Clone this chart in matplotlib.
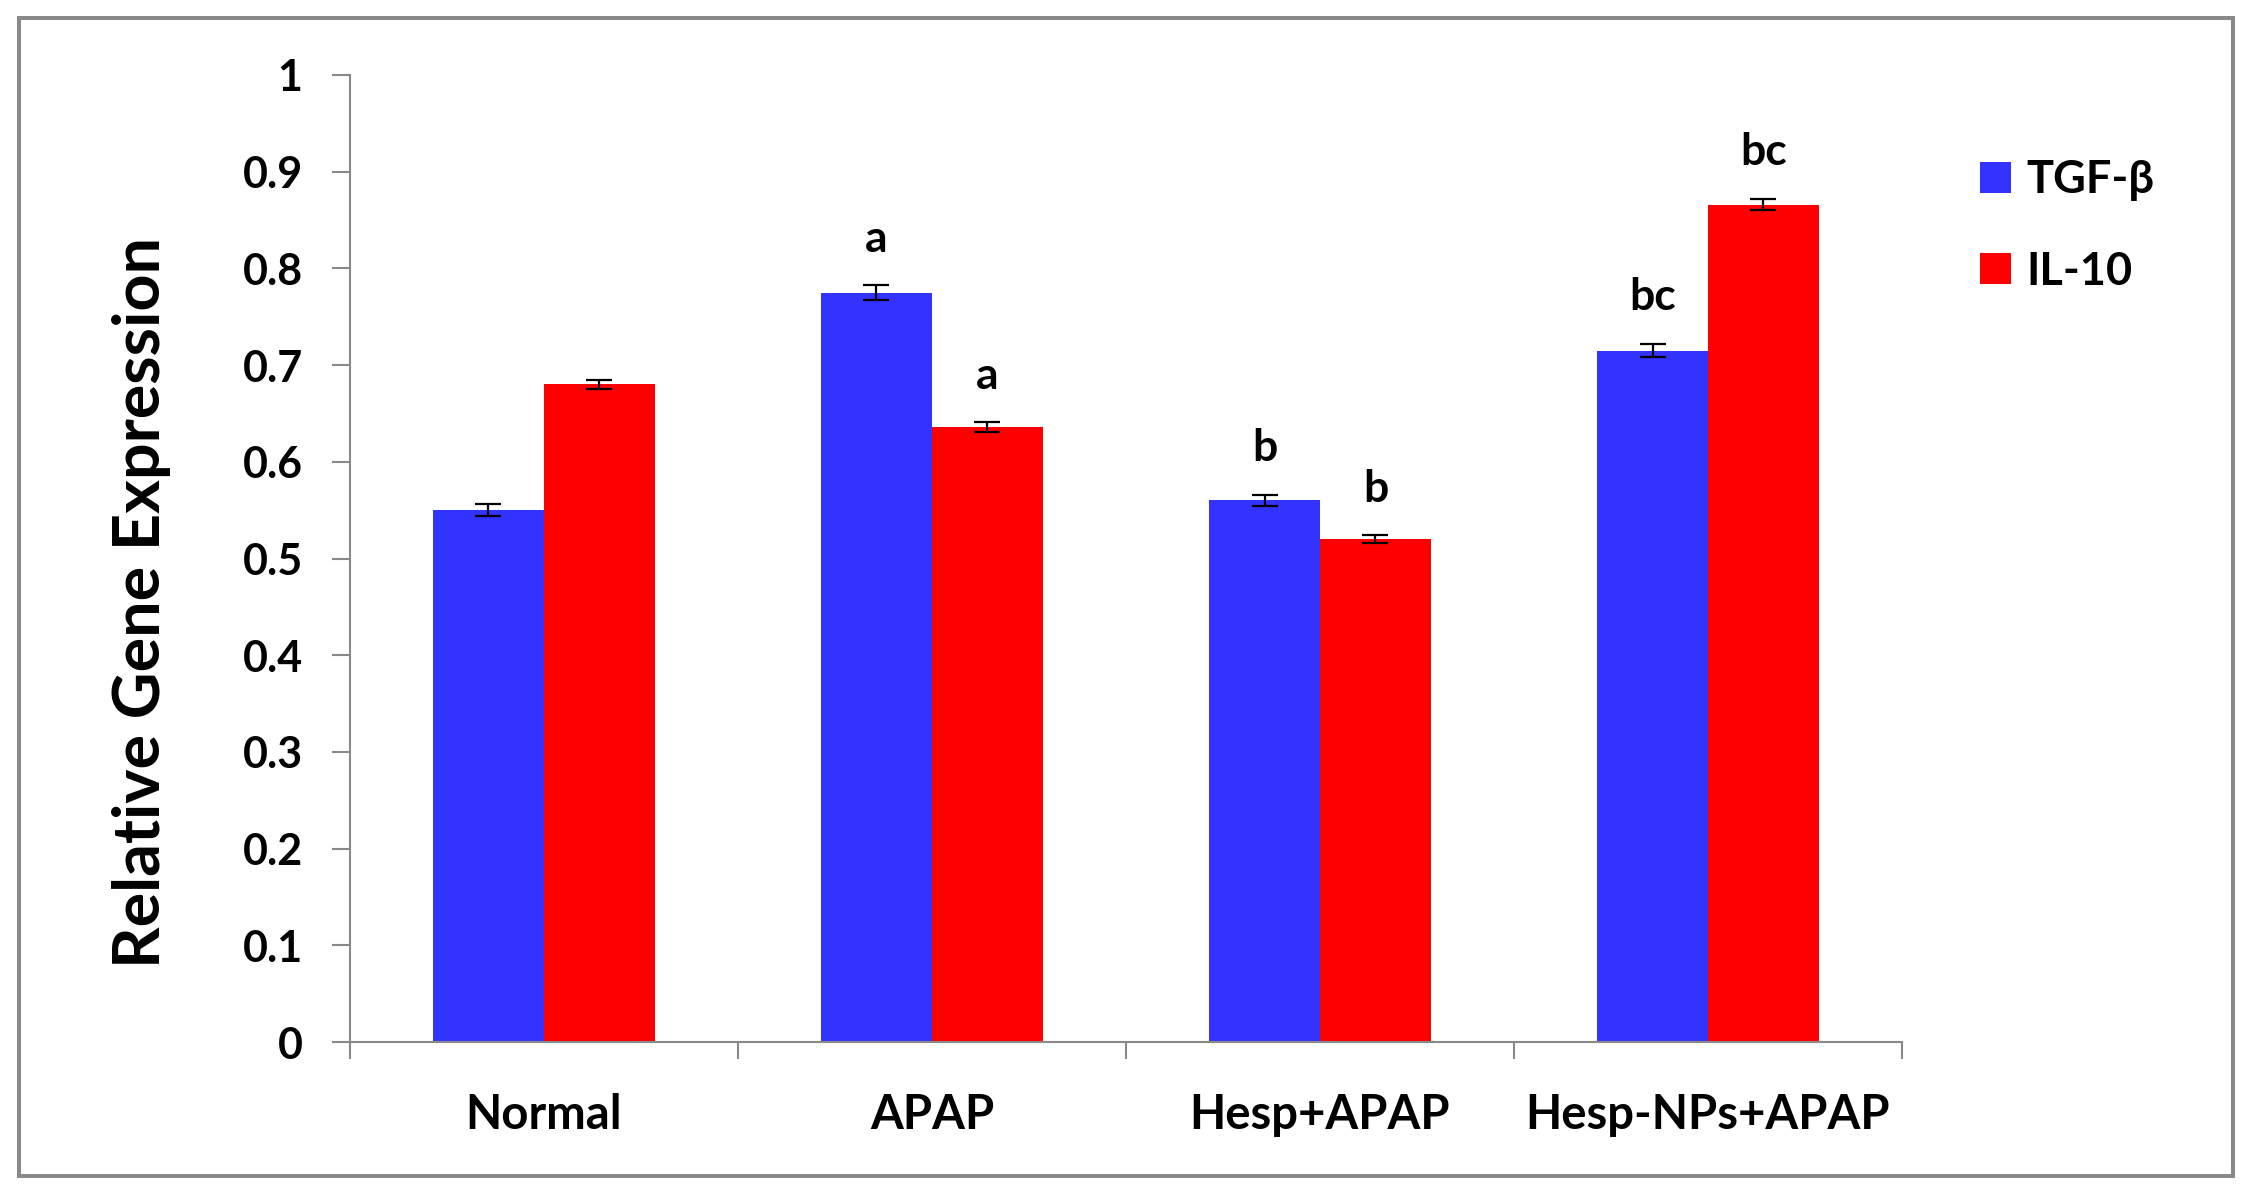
"""
Relative gene expression of TGF-beta and IL-10 per treatment group.
"""

import matplotlib
matplotlib.use("Agg")
import numpy as np
import matplotlib.pyplot as plt
from matplotlib.patches import Patch, Rectangle

groups = ["Normal", "APAP", "Hesp+APAP", "Hesp-NPs+APAP"]
tgf_beta = [0.550, 0.775, 0.560, 0.715]
tgf_beta_err = [0.006, 0.008, 0.006, 0.007]
il10 = [0.680, 0.636, 0.520, 0.866]
il10_err = [0.005, 0.005, 0.004, 0.006]
tgf_letters = ["", "a", "b", "bc"]
il10_letters = ["", "a", "b", "bc"]
series_names = ["TGF-β", "IL-10"]
y_ticks = [0, 0.1, 0.2, 0.3, 0.4, 0.5, 0.6, 0.7, 0.8, 0.9, 1]
y_tick_labels = ["0", "0.1", "0.2", "0.3", "0.4", "0.5", "0.6", "0.7", "0.8", "0.9", "1"]

BLUE = "#3333ff"
RED = "#ff0000"
GRAY = "#898989"
FONT = ["Lato", "DejaVu Sans"]

plt.rcParams["font.family"] = FONT
plt.rcParams["font.weight"] = "bold"

fig = plt.figure(figsize=(22.53, 11.98), dpi=100)
ax = fig.add_axes([0.1553, 0.1302, 0.6889, 0.8072])

x = np.arange(len(groups))
width = 1 / 3.5
ax.bar(x - width / 2, tgf_beta, width, color=BLUE, zorder=2)
ax.bar(x + width / 2, il10, width, color=RED, zorder=2)

err_style = dict(fmt="none", ecolor="black", elinewidth=1.6, capsize=9.5,
                 capthick=1.6, zorder=3)
ax.errorbar(x - width / 2, tgf_beta, yerr=tgf_beta_err, **err_style)
ax.errorbar(x + width / 2, il10, yerr=il10_err, **err_style)

# significance letters above the bars
for xs, vals, errs, letters in [(x - width / 2, tgf_beta, tgf_beta_err, tgf_letters),
                                (x + width / 2, il10, il10_err, il10_letters)]:
    for xi, v, e, lab in zip(xs, vals, errs, letters):
        if lab:
            ax.annotate(lab, (xi, v + e), xytext=(0, 24), textcoords="offset points",
                        ha="center", va="baseline", fontsize=32, fontweight="bold")

ax.set_xlim(-0.5, len(groups) - 0.5)
ax.set_ylim(0, 1)
ax.set_yticks(y_ticks)
ax.set_yticklabels(y_tick_labels)
ax.set_xticks(x)
ax.set_xticklabels(groups)
ax.set_xticks(np.arange(len(groups) + 1) - 0.5, minor=True)

ax.tick_params(axis="y", direction="out", length=13, width=1.5, color=GRAY,
               pad=21, labelsize=31)
ax.tick_params(axis="x", which="major", length=0, pad=37, labelsize=34)
ax.tick_params(axis="x", which="minor", direction="out", length=12, width=1.5,
               color=GRAY)

for side in ["top", "right"]:
    ax.spines[side].set_visible(False)
for side in ["left", "bottom"]:
    ax.spines[side].set_color(GRAY)
    ax.spines[side].set_linewidth(1.5)

ax.set_ylabel("Relative Gene Expression", fontsize=46.5, fontweight="bold")
ax.yaxis.set_label_coords(-0.115, 0.455)

handles = [Patch(facecolor=BLUE, edgecolor="none"), Patch(facecolor=RED, edgecolor="none")]
fig.legend(handles, series_names, loc="center left", bbox_to_anchor=(0.8788, 0.8114),
           frameon=False, fontsize=32.5, handlelength=0.68, handleheight=0.68,
           handletextpad=0.35, labelspacing=1.1, borderpad=0, borderaxespad=0)

# gray border around the whole chart
fig.patches.append(Rectangle((0.0084, 0.0184), 0.9827, 0.9666, transform=fig.transFigure,
                             fill=False, edgecolor=GRAY, linewidth=2.9))

fig.savefig("out.png", dpi=100, facecolor="white")
